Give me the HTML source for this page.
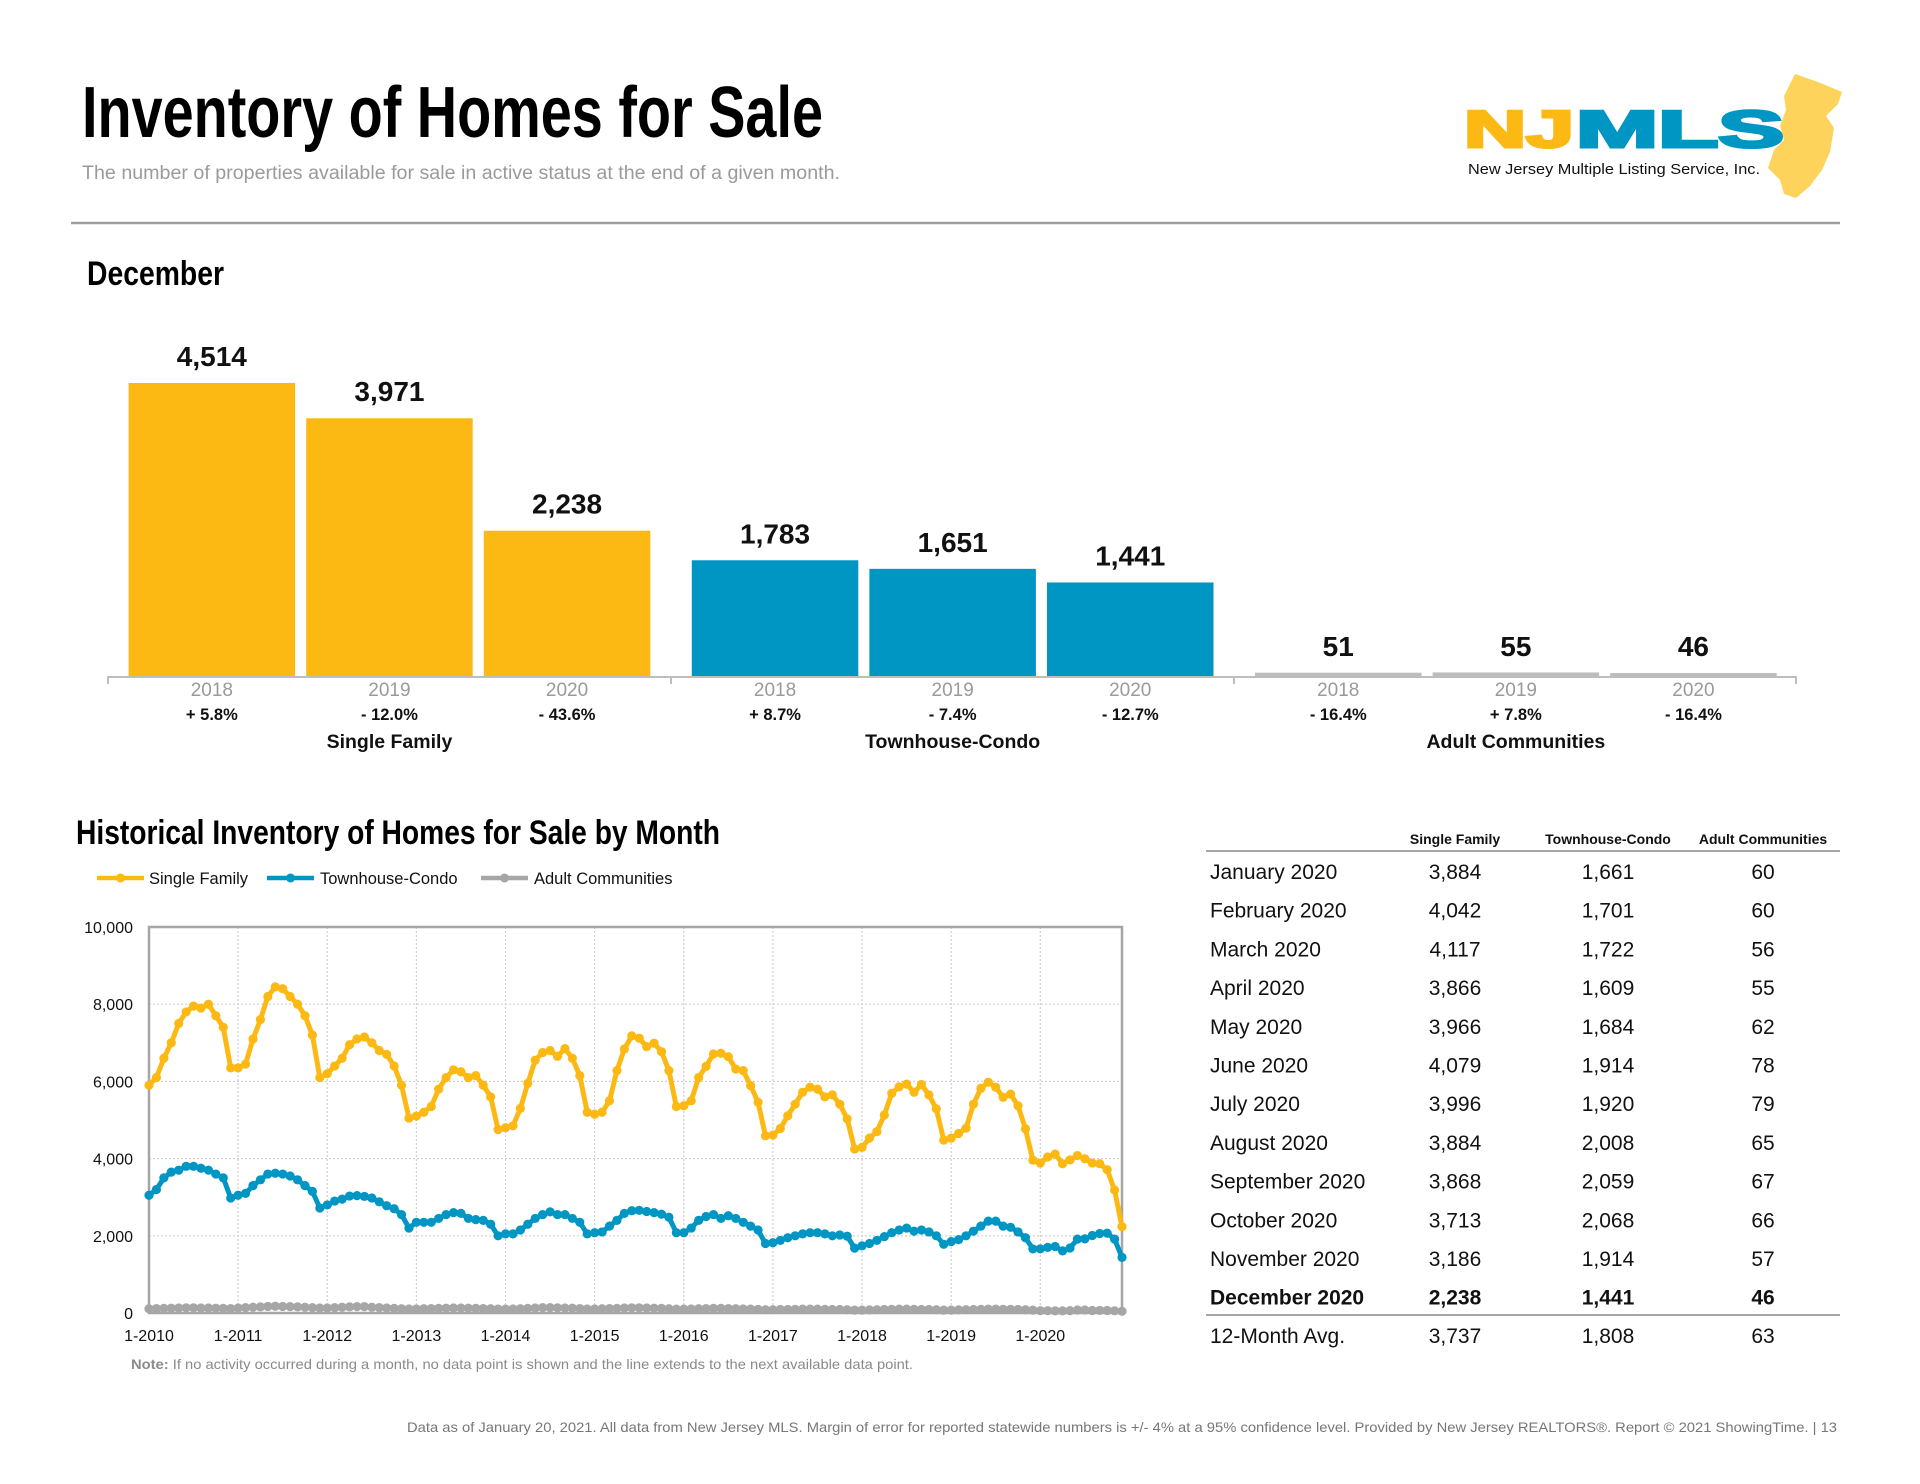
<!DOCTYPE html>
<html><head><meta charset="utf-8"><title>Inventory of Homes for Sale</title>
<style>
html,body{margin:0;padding:0;background:#fff;}
svg{display:block;font-family:"Liberation Sans",sans-serif;}
.narrow{font-family:"Liberation Sans Narrow","Liberation Sans",sans-serif;font-weight:bold;}
</style></head>
<body>
<svg id="page" width="1920" height="1484" viewBox="0 0 1920 1484" xmlns="http://www.w3.org/2000/svg">
  <text class="narrow" x="82" y="137" font-size="72" fill="#000" textLength="741" lengthAdjust="spacingAndGlyphs">Inventory of Homes for Sale</text>
  <text x="82" y="179" font-size="19" fill="#9a9a9a" textLength="758" lengthAdjust="spacingAndGlyphs">The number of properties available for sale in active status at the end of a given month.</text>
  <g>
    <path d="M1795 74 L1818 82 L1842 92 L1838 104 L1826 116 L1834 128 L1830 152 L1822 170 L1810 186 L1796 198 L1784 194 L1780 180 L1768 168 L1774 150 L1784 140 L1780 126 L1786 110 L1784 96 Z" fill="#FDD35C"/>
    <text x="1464" y="147" font-size="52" font-weight="bold" fill="#FDB913" stroke="#FDB913" stroke-width="3" textLength="110" lengthAdjust="spacingAndGlyphs">NJ</text>
    <text x="1576" y="147" font-size="52" font-weight="bold" fill="#0096C4" stroke="#0096C4" stroke-width="3" textLength="208" lengthAdjust="spacingAndGlyphs">MLS</text>
    <text x="1468" y="174" font-size="14.5" fill="#111" textLength="292" lengthAdjust="spacingAndGlyphs">New Jersey Multiple Listing Service, Inc.</text>
  </g>
  <line x1="71" y1="223" x2="1840" y2="223" stroke="#9e9e9e" stroke-width="2.5"/>
  <text class="narrow" x="87" y="285" font-size="34" textLength="137" lengthAdjust="spacingAndGlyphs">December</text>
  <g id="bars"></g>
  <text class="narrow" x="76" y="844" font-size="34" textLength="644" lengthAdjust="spacingAndGlyphs">Historical Inventory of Homes for Sale by Month</text>
  <g id="legend"></g>
  <g id="line"></g>
  <text x="131" y="1369" font-size="14" fill="#8a8a8a" textLength="782" lengthAdjust="spacingAndGlyphs"><tspan font-weight="bold">Note:</tspan> If no activity occurred during a month, no data point is shown and the line extends to the next available data point.</text>
  <g id="table"></g>
  <text x="1837" y="1432" font-size="14" fill="#777" text-anchor="end" textLength="1430" lengthAdjust="spacingAndGlyphs">Data as of January 20, 2021. All data from New Jersey MLS. Margin of error for reported statewide numbers is +/- 4% at a 95% confidence level. Provided by New Jersey REALTORS®. Report © 2021 ShowingTime.  |  13</text>
</svg>
<script>
var NS="http://www.w3.org/2000/svg";
// ---- December bar chart data ----
var barGroups=["Single Family","Townhouse-Condo","Adult Communities"];
var barYears=["2018","2019","2020"];
var sfBars=[4514,3971,2238];
var tcBars=[1783,1651,1441];
var acBars=[51,55,46];
var sfPct=["+ 5.8%","- 12.0%","- 43.6%"];
var tcPct=["+ 8.7%","- 7.4%","- 12.7%"];
var acPct=["- 16.4%","+ 7.8%","- 16.4%"];
// ---- Historical line chart data (monthly, 1-2010 .. 12-2020) ----
var xTickLabels=["1-2010","1-2011","1-2012","1-2013","1-2014","1-2015","1-2016","1-2017","1-2018","1-2019","1-2020"];
var yTickValues=[0,2000,4000,6000,8000,10000];
var sfSeries=[5900,6100,6600,7000,7500,7800,7950,7900,8000,7700,7400,6350,
6350,6450,7100,7600,8200,8450,8400,8200,8000,7700,7200,6100,
6200,6400,6600,6950,7100,7150,7000,6800,6700,6400,5900,5050,
5100,5200,5350,5800,6100,6300,6250,6100,6150,5900,5600,4750,
4800,4850,5300,5950,6550,6750,6800,6650,6850,6600,6150,5200,
5150,5200,5500,6280,6840,7180,7120,6900,6990,6770,6280,5350,
5370,5500,6100,6390,6710,6730,6640,6320,6280,5890,5460,4590,
4610,4780,5110,5410,5720,5850,5800,5600,5650,5410,5030,4250,
4290,4530,4700,5130,5690,5860,5930,5720,5920,5650,5290,4480,
4530,4650,4790,5410,5820,5980,5850,5590,5670,5370,4770,3960,
3884,4042,4117,3866,3966,4079,3996,3884,3868,3713,3186,2238];
var tcSeries=[3050,3200,3500,3650,3700,3800,3800,3750,3700,3600,3500,2980,
3050,3100,3300,3450,3600,3620,3600,3550,3450,3300,3150,2720,
2800,2900,2950,3030,3040,3020,2980,2880,2780,2700,2550,2200,
2350,2350,2350,2450,2550,2600,2580,2450,2420,2400,2300,2000,
2050,2050,2150,2300,2450,2550,2620,2550,2550,2450,2350,2050,
2080,2100,2250,2400,2580,2650,2660,2630,2600,2560,2480,2080,
2080,2200,2400,2500,2550,2450,2520,2450,2350,2250,2150,1800,
1820,1880,1950,2000,2050,2080,2080,2050,2000,2020,1990,1680,
1740,1800,1880,1980,2080,2150,2200,2120,2150,2100,2000,1780,
1850,1900,2000,2120,2250,2380,2380,2250,2220,2100,1950,1660,
1661,1701,1722,1609,1684,1914,1920,2008,2059,2068,1914,1441];
var acSeries=[110,115,120,125,130,135,135,130,130,125,120,115,
130,140,150,160,170,175,170,165,160,150,140,130,
130,140,150,160,165,165,150,140,130,120,110,105,
105,110,115,120,125,130,130,125,120,115,110,100,
100,105,110,120,130,140,140,135,130,125,115,105,
105,110,115,120,130,135,135,130,125,120,110,100,
100,105,110,115,120,120,115,110,105,100,95,85,
85,90,90,95,100,100,100,95,90,90,85,75,
75,80,85,90,95,100,100,95,90,90,85,75,
75,80,85,90,95,100,100,95,95,90,85,75,
60,60,56,55,62,78,79,65,67,66,57,46];
// ---- Table data ----
var tableMonths=["January 2020","February 2020","March 2020","April 2020","May 2020","June 2020","July 2020","August 2020","September 2020","October 2020","November 2020","December 2020"];
var tableSF=["3,884","4,042","4,117","3,866","3,966","4,079","3,996","3,884","3,868","3,713","3,186","2,238"];
var tableTC=["1,661","1,701","1,722","1,609","1,684","1,914","1,920","2,008","2,059","2,068","1,914","1,441"];
var tableAC=["60","60","56","55","62","78","79","65","67","66","57","46"];
var tableAvg=["3,737","1,808","63"];

function mk(tag,attrs,parent,txt){var e=document.createElementNS(NS,tag);for(var k in attrs)e.setAttribute(k,attrs[k]);if(txt!==undefined)e.textContent=txt;parent.appendChild(e);return e;}
function fmt(v){return v.toLocaleString("en-US");}

// ---- bars ----
(function(){
  var g=document.getElementById("bars");
  var base=676, scale=293/4514, bw=166.5, step=177.6;
  var starts=[128.6,691.8,1255];
  var colors=["#FDB913","#0096C4","#BDBDBD"];
  var vals=[sfBars,tcBars,acBars], pcts=[sfPct,tcPct,acPct];
  var ax=mk("line",{x1:108,y1:base+1,x2:1796,y2:base+1,stroke:"#bdbdbd","stroke-width":2},g);
  
  
  [108,671,1234,1796].forEach(function(tx){
    var t=mk("line",{x1:tx,y1:base,x2:tx,y2:base+8,stroke:"#bdbdbd","stroke-width":2},g);
    
    
  });
  for(var gi=0;gi<3;gi++){
    for(var i=0;i<3;i++){
      var v=vals[gi][i], h=Math.max(v*scale,3), x=starts[gi]+i*step, cx=x+bw/2;
      var r=mk("rect",{x:x,y:base-h,width:bw,height:h,fill:colors[gi]},g);
      
      
      var lab=mk("text",{x:cx,y:(gi==2?base-20:base-h-17),"font-size":28,"font-weight":"bold","text-anchor":"middle",fill:"#111"},g,fmt(v));
      
      
      var yr=mk("text",{x:cx,y:696,"font-size":19,"text-anchor":"middle",fill:"#9a9a9a"},g,barYears[i]);
      
      
      var pc=mk("text",{x:cx,y:720,"font-size":16.5,"font-weight":"bold","text-anchor":"middle",fill:"#111"},g,pcts[gi][i]);
      
      
    }
    var gn=mk("text",{x:starts[gi]+step+bw/2,y:748,"font-size":19.5,"font-weight":"bold","text-anchor":"middle",fill:"#111"},g,barGroups[gi]);
    
    
  }
})();

// ---- legend ----
(function(){
  var g=document.getElementById("legend");
  var items=[["Single Family","#FDB913",97,149],["Townhouse-Condo","#0096C4",267,320],["Adult Communities","#A6A6A6",481,534]];
  items.forEach(function(it){
    var l=mk("line",{x1:it[2],y1:878,x2:it[2]+47,y2:878,stroke:it[1],"stroke-width":4.5},g);
    
    
    var c=mk("circle",{cx:it[2]+23.5,cy:878,r:4.5,fill:it[1]},g);
    
    
    var t=mk("text",{x:it[3],y:884,"font-size":16.5,fill:"#111"},g,it[0]);
    
    
  });
})();

// ---- line chart ----
(function(){
  var g=document.getElementById("line");
  var L=149,R=1122,T=927,B=1313,n=sfSeries.length;
  function X(i){return L+i*(R-L)/(n-1);}
  function Y(v){return B-v/10000*(B-T);}
  yTickValues.forEach(function(v){
    if(v>0&&v<10000){var gl=mk("line",{x1:L,y1:Y(v),x2:R,y2:Y(v),stroke:"#d0d0d0","stroke-width":1.2,"stroke-dasharray":"2,2"},g);
    
    }
    var t=mk("text",{x:133,y:Y(v)+6,"font-size":16,"text-anchor":"end",fill:"#111"},g,v===0?"0":fmt(v));
    
    
  });
  xTickLabels.forEach(function(lbl,k){
    var x=X(k*12);
    if(k>0){var gl=mk("line",{x1:x,y1:T,x2:x,y2:B,stroke:"#d0d0d0","stroke-width":1.2,"stroke-dasharray":"2,2"},g);
    
    }
    var t=mk("text",{x:x,y:1341,"font-size":16,"text-anchor":"middle",fill:"#111"},g,lbl);
    
    
  });
  var fr=mk("rect",{x:L,y:T,width:R-L,height:B-T,fill:"none",stroke:"#a6a6a6","stroke-width":2.5},g);
  
  
  var series=[[acSeries,"#A6A6A6","adult-communities"],[tcSeries,"#0096C4","townhouse-condo"],[sfSeries,"#FDB913","single-family"]];
  series.forEach(function(s){
    var d="";
    s[0].forEach(function(v,i){d+=(i?"L":"M")+X(i).toFixed(2)+" "+Y(v).toFixed(2);});
    var p=mk("path",{d:d,fill:"none",stroke:s[1],"stroke-width":5,"stroke-linejoin":"round"},g);
    
    
    s[0].forEach(function(v,i){
      var c=mk("circle",{cx:X(i),cy:Y(v),r:4.6,fill:s[1]},g);
      
      
    });
  });
})();

// ---- table ----
(function(){
  var g=document.getElementById("table");
  var cols=[1455,1608,1763], heads=["Single Family","Townhouse-Condo","Adult Communities"];
  heads.forEach(function(h,i){
    var t=mk("text",{x:cols[i],y:844,"font-size":14,"font-weight":"bold","text-anchor":"middle",fill:"#111"},g,h);
    
    
  });
  var l1=mk("line",{x1:1206,y1:851,x2:1840,y2:851,stroke:"#a6a6a6","stroke-width":2},g);
  
  
  var l2=mk("line",{x1:1206,y1:1315,x2:1840,y2:1315,stroke:"#a6a6a6","stroke-width":2},g);
  
  
  function row(y,cells,bold,name){
    var a={ "font-size":21, fill:"#111"}; if(bold)a["font-weight"]="bold";
    var t=mk("text",Object.assign({x:1210,y:y},a),g,cells[0]);
    
    
    for(var i=0;i<3;i++){
      var c=mk("text",Object.assign({x:cols[i],y:y,"text-anchor":"middle"},a),g,cells[i+1]);
      
      
    }
  }
  tableMonths.forEach(function(m,i){row(879+i*38.7,[m,tableSF[i],tableTC[i],tableAC[i]],i===11,'table-row');});
  row(1343,["12-Month Avg.",tableAvg[0],tableAvg[1],tableAvg[2]],false,'table-average-row');
})();
</script>
</body></html>
